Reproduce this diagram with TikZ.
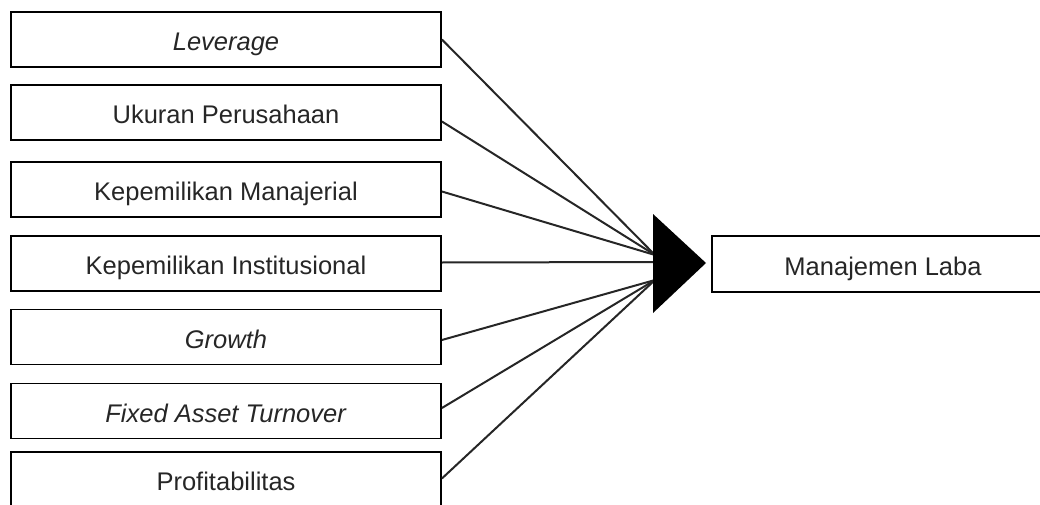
\documentclass[tikz,border=0pt]{standalone}
\usepackage{fontspec}
\setmainfont{Liberation Sans}

\begin{document}
\begin{tikzpicture}[x=1pt, y=-1pt,
        varbox/.style={draw, line width=1.8pt, minimum width=430pt, minimum height=55pt,
            inner sep=0pt, text height=24pt, text depth=2pt, text=black!85,
            font=\fontsize{25.5}{30}\selectfont},
        link/.style={line width=2pt, draw=black!85}]
            \useasboundingbox (0, 0) rectangle (1040, 505);
            %\draw[lightgray] (0, 0) grid[step=50] (1040, 505);

            \node[varbox] (lev) at (226, 39.5) {\textit{Leverage}};
            \node[varbox] (size) at (226, 112.5) {Ukuran Perusahaan};
            \node[varbox] (mown) at (226, 189.5) {Kepemilikan Manajerial};
            \node[varbox] (iown) at (226, 263.5) {Kepemilikan Institusional};
            \node[varbox] (grow) at (226, 337) {\textit{Growth}};
            \node[varbox] (fat) at (226, 411) {\textit{Fixed Asset Turnover}};
            \node[varbox] (prof) at (226, 479.5) {Profitabilitas};

            \node[varbox, minimum width=342pt, minimum height=56pt] (ml) at (883, 264) {Manajemen Laba};

            \coordinate (upper) at (655, 255);
            \coordinate (middle) at (655, 262);
            \coordinate (lower) at (655, 280);

            \draw[link] (lev.east) -- (upper);
            \draw[link] ([yshift=-9pt]size.east) -- (upper);
            \draw[link] ([yshift=-2pt]mown.east) -- (upper);
            \draw[link] ([yshift=1pt]iown.east) -- (middle);
            \draw[link] ([yshift=-3pt]grow.east) -- (lower);
            \draw[link] ([yshift=3pt]fat.east) -- (lower);
            \draw[link] ([yshift=1pt]prof.east) -- (lower);

            % big arrow head
            \fill (653, 214) -- (706, 263) -- (653, 313) -- cycle;
        \end{tikzpicture}
\end{document}
